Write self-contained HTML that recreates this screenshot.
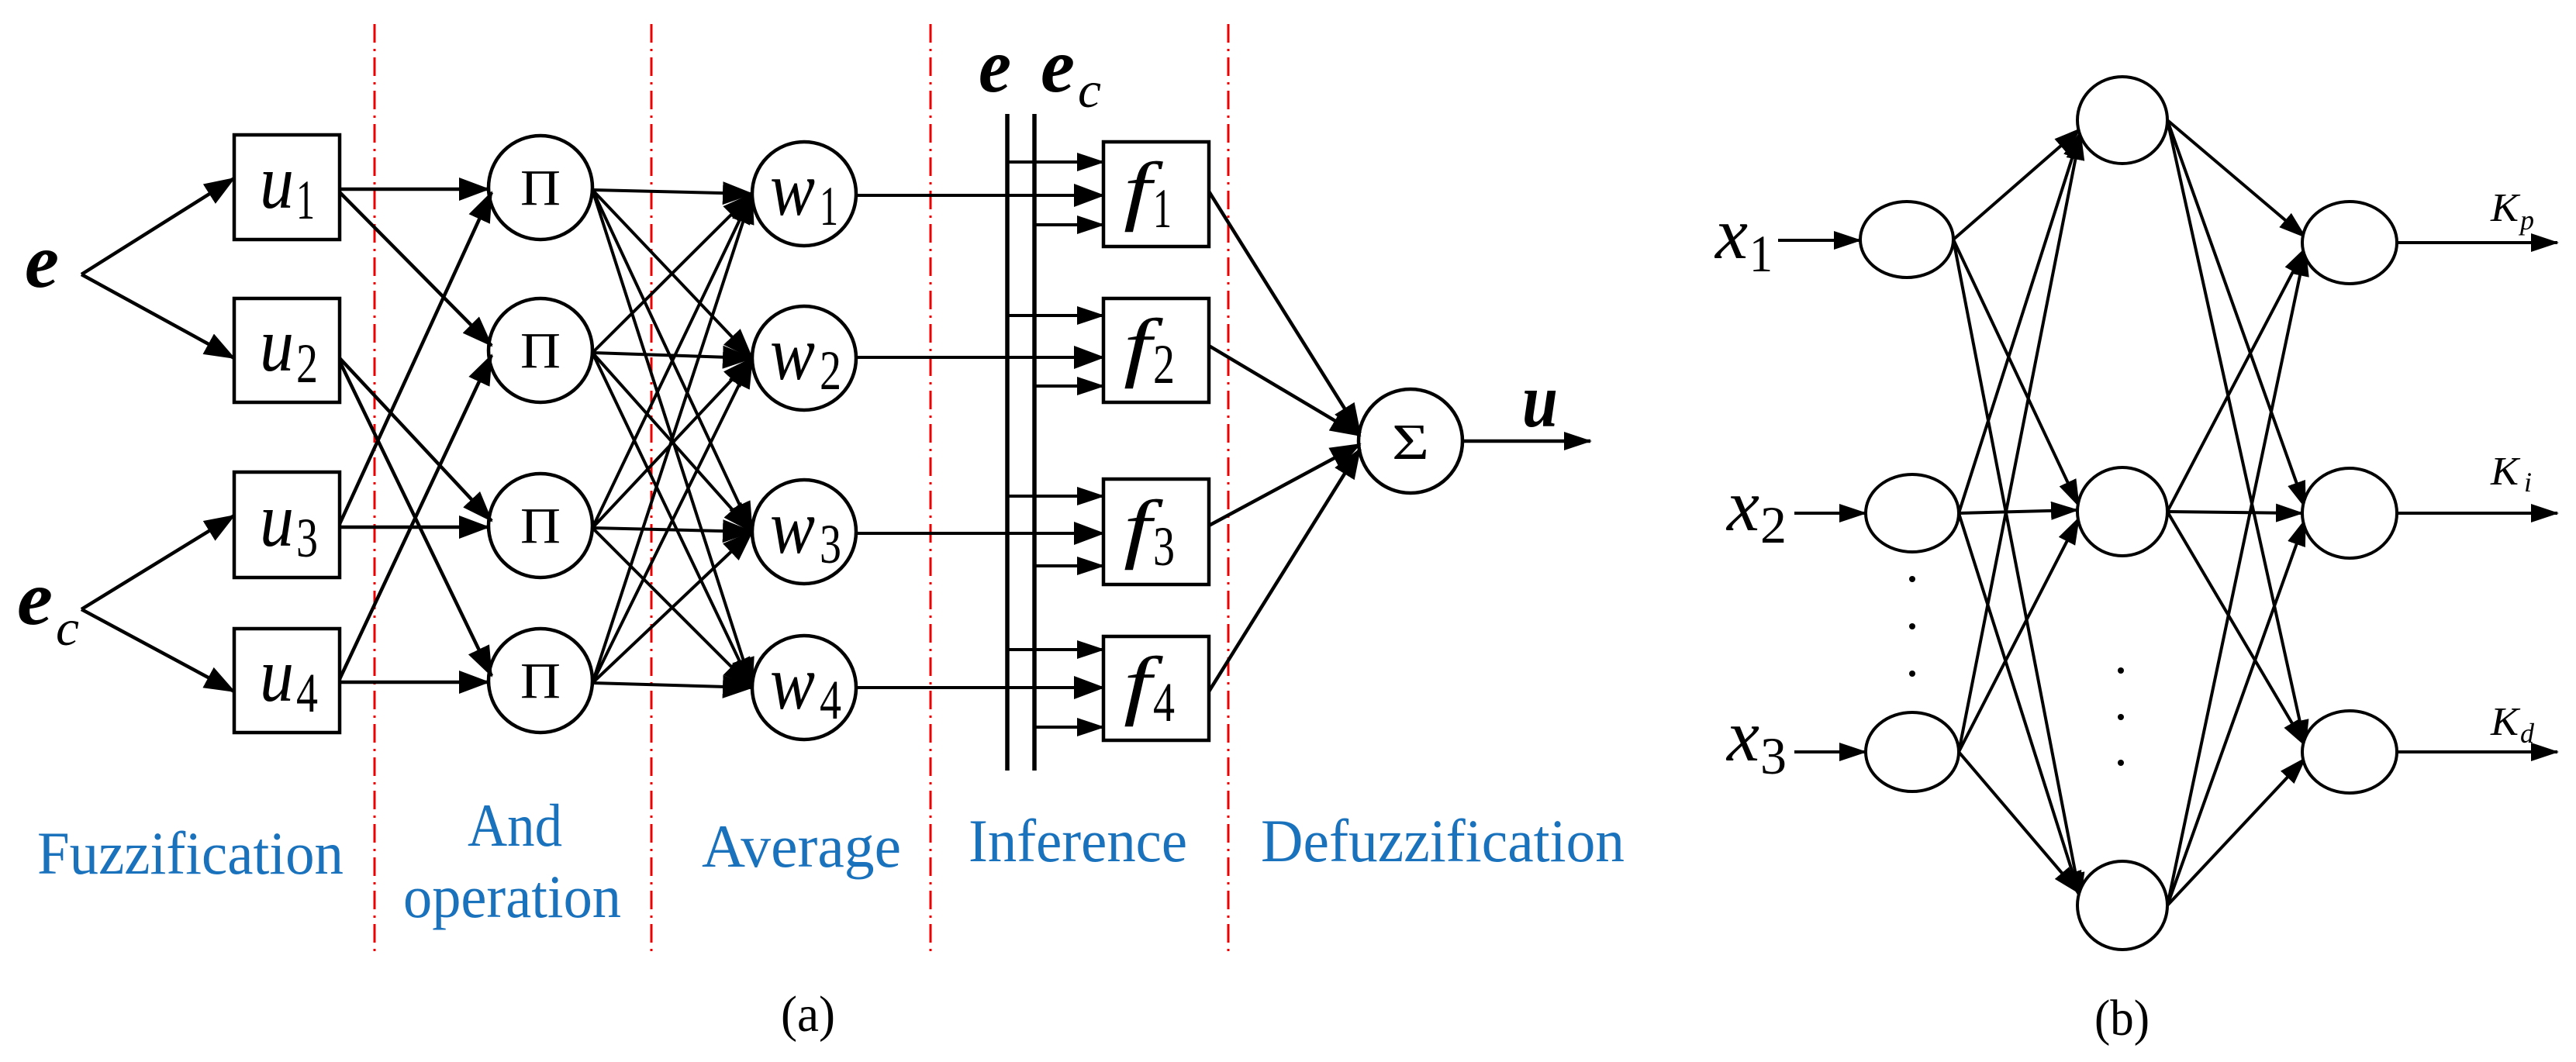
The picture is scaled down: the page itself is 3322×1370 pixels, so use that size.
<!DOCTYPE html>
<html><head><meta charset="utf-8"><style>html,body{margin:0;padding:0;background:#fff}svg{display:block}svg text{font-family:"Liberation Serif","DejaVu Serif",serif}</style></head>
<body>
<svg width="3322" height="1370" viewBox="0 0 3322 1370" xmlns="http://www.w3.org/2000/svg">
<defs>
<marker id="a" markerUnits="userSpaceOnUse" markerWidth="40" markerHeight="30" refX="38" refY="15" orient="auto">
<path d="M0,0 L40,15 L0,30 Z" fill="#000"/></marker>
<marker id="s" markerUnits="userSpaceOnUse" markerWidth="36" markerHeight="24" refX="34" refY="12" orient="auto">
<path d="M0,0 L36,12 L0,24 Z" fill="#000"/></marker>
</defs>
<g stroke="#e00" stroke-width="3" stroke-dasharray="24,8,3,8">
<line x1="483" y1="31" x2="483" y2="1233"/><line x1="840" y1="31" x2="840" y2="1233"/>
<line x1="1200" y1="31" x2="1200" y2="1233"/><line x1="1584" y1="31" x2="1584" y2="1233"/>
</g>
<g stroke="#000" stroke-width="4.5" fill="none">
<g marker-end="url(#a)">
<line x1="105" y1="354" x2="302" y2="230"/><line x1="105" y1="354" x2="302" y2="462"/>
<line x1="105" y1="786" x2="302" y2="665"/><line x1="105" y1="786" x2="302" y2="892"/>
<line x1="438" y1="244" x2="630" y2="244"/><line x1="438" y1="248" x2="634" y2="446"/>
<line x1="438" y1="462" x2="634" y2="672"/><line x1="438" y1="466" x2="634" y2="872"/>
<line x1="438" y1="680" x2="630" y2="680"/><line x1="438" y1="676" x2="634" y2="248"/>
<line x1="438" y1="880" x2="630" y2="880"/><line x1="438" y1="876" x2="634" y2="458"/>
</g>
<g marker-end="url(#a)" stroke-width="4">
<line x1="764" y1="245" x2="970" y2="250"/><line x1="764" y1="245" x2="970" y2="462"/><line x1="764" y1="245" x2="970" y2="686"/><line x1="764" y1="245" x2="970" y2="887"/>
<line x1="764" y1="455" x2="970" y2="250"/><line x1="764" y1="455" x2="970" y2="462"/><line x1="764" y1="455" x2="970" y2="686"/><line x1="764" y1="455" x2="970" y2="887"/>
<line x1="764" y1="681" x2="970" y2="250"/><line x1="764" y1="681" x2="970" y2="462"/><line x1="764" y1="681" x2="970" y2="686"/><line x1="764" y1="681" x2="970" y2="887"/>
<line x1="764" y1="881" x2="970" y2="250"/><line x1="764" y1="881" x2="970" y2="462"/><line x1="764" y1="881" x2="970" y2="686"/><line x1="764" y1="881" x2="970" y2="887"/>
<line x1="1104" y1="252" x2="1423" y2="252"/><line x1="1104" y1="461" x2="1423" y2="461"/>
<line x1="1104" y1="688" x2="1423" y2="688"/><line x1="1104" y1="887" x2="1423" y2="887"/>
</g>
<g marker-end="url(#s)" stroke-width="4">
<line x1="1299" y1="209" x2="1423" y2="209"/><line x1="1334" y1="290" x2="1423" y2="290"/>
<line x1="1299" y1="407" x2="1423" y2="407"/><line x1="1334" y1="498" x2="1423" y2="498"/>
<line x1="1299" y1="640" x2="1423" y2="640"/><line x1="1334" y1="730" x2="1423" y2="730"/>
<line x1="1299" y1="838" x2="1423" y2="838"/><line x1="1334" y1="938" x2="1423" y2="938"/>
</g>
<line x1="1299" y1="147" x2="1299" y2="994" stroke-width="5.5"/><line x1="1334" y1="147" x2="1334" y2="994" stroke-width="5.5"/>
<g marker-end="url(#a)">
<line x1="1559" y1="247" x2="1754" y2="559"/><line x1="1559" y1="446" x2="1754" y2="562"/>
<line x1="1559" y1="678" x2="1754" y2="573"/><line x1="1559" y1="892" x2="1754" y2="579"/>
</g>
<line x1="1886" y1="569" x2="2051" y2="569" marker-end="url(#s)"/>
<rect x="302" y="174" width="136" height="135"/><rect x="302" y="385" width="136" height="134"/>
<rect x="302" y="609" width="136" height="136"/><rect x="302" y="811" width="136" height="134"/>
<rect x="1423" y="183" width="136" height="135"/><rect x="1423" y="385" width="136" height="134"/>
<rect x="1423" y="618" width="136" height="136"/><rect x="1423" y="821" width="136" height="134"/>
<ellipse cx="697" cy="242" rx="67" ry="67"/><ellipse cx="697" cy="452" rx="67" ry="67"/>
<ellipse cx="697" cy="678" rx="67" ry="67"/><ellipse cx="697" cy="878" rx="67" ry="67"/>
<ellipse cx="1037" cy="250" rx="67" ry="67"/><ellipse cx="1037" cy="462" rx="67" ry="67"/>
<ellipse cx="1037" cy="686" rx="67" ry="67"/><ellipse cx="1037" cy="887" rx="67" ry="67"/>
<ellipse cx="1819" cy="569" rx="67" ry="67"/>
</g>
<g fill="#000">
<text x="32" y="370" font-size="100" font-style="italic" font-weight="bold" textLength="44" lengthAdjust="spacingAndGlyphs">e</text>
<text x="22" y="805" font-size="100" font-style="italic" font-weight="bold" textLength="46" lengthAdjust="spacingAndGlyphs">e</text><text x="72" y="832" font-size="66" font-style="italic" textLength="30" lengthAdjust="spacingAndGlyphs">c</text>
<text x="1262" y="118" font-size="100" font-style="italic" font-weight="bold" textLength="42" lengthAdjust="spacingAndGlyphs">e</text>
<text x="1342" y="118" font-size="100" font-style="italic" font-weight="bold" textLength="44" lengthAdjust="spacingAndGlyphs">e</text><text x="1390" y="138" font-size="66" font-style="italic" textLength="30" lengthAdjust="spacingAndGlyphs">c</text>
<text x="1963" y="550" font-size="100" font-style="italic" font-weight="bold" textLength="46" lengthAdjust="spacingAndGlyphs">u</text>
<g font-size="100" font-style="italic">
<text x="335" y="268" textLength="44" lengthAdjust="spacingAndGlyphs">u</text><text x="335" y="478" textLength="44" lengthAdjust="spacingAndGlyphs">u</text><text x="335" y="704" textLength="44" lengthAdjust="spacingAndGlyphs">u</text><text x="335" y="904" textLength="44" lengthAdjust="spacingAndGlyphs">u</text>
<text x="993" y="277" textLength="58" lengthAdjust="spacingAndGlyphs">w</text><text x="993" y="489" textLength="58" lengthAdjust="spacingAndGlyphs">w</text><text x="993" y="713" textLength="58" lengthAdjust="spacingAndGlyphs">w</text><text x="993" y="914" textLength="58" lengthAdjust="spacingAndGlyphs">w</text>
<text x="1449" y="278" textLength="36" lengthAdjust="spacingAndGlyphs">f</text><text x="1449" y="480" textLength="36" lengthAdjust="spacingAndGlyphs">f</text><text x="1449" y="714" textLength="36" lengthAdjust="spacingAndGlyphs">f</text><text x="1449" y="916" textLength="36" lengthAdjust="spacingAndGlyphs">f</text></g>
<g font-size="72">
<text x="382" y="282" textLength="24" lengthAdjust="spacingAndGlyphs">1</text><text x="382" y="493" textLength="28" lengthAdjust="spacingAndGlyphs">2</text><text x="382" y="718" textLength="28" lengthAdjust="spacingAndGlyphs">3</text><text x="382" y="918" textLength="28" lengthAdjust="spacingAndGlyphs">4</text>
<text x="1057" y="290" textLength="24" lengthAdjust="spacingAndGlyphs">1</text><text x="1057" y="502" textLength="28" lengthAdjust="spacingAndGlyphs">2</text><text x="1057" y="726" textLength="28" lengthAdjust="spacingAndGlyphs">3</text><text x="1057" y="927" textLength="28" lengthAdjust="spacingAndGlyphs">4</text>
<text x="1487" y="293" textLength="24" lengthAdjust="spacingAndGlyphs">1</text><text x="1487" y="494" textLength="28" lengthAdjust="spacingAndGlyphs">2</text><text x="1487" y="729" textLength="28" lengthAdjust="spacingAndGlyphs">3</text><text x="1487" y="930" textLength="28" lengthAdjust="spacingAndGlyphs">4</text></g>
<g font-size="66">
<text x="671" y="264" textLength="52" lengthAdjust="spacingAndGlyphs">Π</text><text x="671" y="474" textLength="52" lengthAdjust="spacingAndGlyphs">Π</text><text x="671" y="700" textLength="52" lengthAdjust="spacingAndGlyphs">Π</text><text x="671" y="900" textLength="52" lengthAdjust="spacingAndGlyphs">Π</text>
<text x="1795" y="592" textLength="48" lengthAdjust="spacingAndGlyphs">Σ</text></g>
<text x="1007" y="1330" font-size="66" textLength="70" lengthAdjust="spacingAndGlyphs">(a)</text>
<text x="2701" y="1335" font-size="66" textLength="71" lengthAdjust="spacingAndGlyphs">(b)</text>
</g>
<g fill="#1a72bd" font-size="78">
<text x="48" y="1127" textLength="395" lengthAdjust="spacingAndGlyphs">Fuzzification</text>
<text x="603" y="1091" textLength="122" lengthAdjust="spacingAndGlyphs">And</text>
<text x="520" y="1183" textLength="281" lengthAdjust="spacingAndGlyphs">operation</text>
<text x="905" y="1118" textLength="257" lengthAdjust="spacingAndGlyphs">Average</text>
<text x="1249" y="1111" textLength="282" lengthAdjust="spacingAndGlyphs">Inference</text>
<text x="1626" y="1111" textLength="469" lengthAdjust="spacingAndGlyphs">Defuzzification</text>
</g>
<g stroke="#000" stroke-width="4" fill="none">
<g marker-end="url(#s)">
<line x1="2293" y1="310" x2="2399" y2="310"/><line x1="2314" y1="662" x2="2406" y2="662"/><line x1="2314" y1="970" x2="2406" y2="970"/>
<line x1="2519" y1="309" x2="2683" y2="166"/><line x1="2519" y1="309" x2="2681" y2="653"/><line x1="2519" y1="309" x2="2683" y2="1160"/>
<line x1="2526" y1="662" x2="2683" y2="170"/><line x1="2526" y1="662" x2="2679" y2="658"/><line x1="2526" y1="662" x2="2683" y2="1158"/>
<line x1="2526" y1="970" x2="2683" y2="172"/><line x1="2526" y1="970" x2="2681" y2="668"/><line x1="2526" y1="970" x2="2681" y2="1152"/>
<line x1="2795" y1="155" x2="2973" y2="306"/><line x1="2795" y1="155" x2="2973" y2="655"/><line x1="2795" y1="155" x2="2973" y2="963"/>
<line x1="2795" y1="660" x2="2973" y2="320"/><line x1="2795" y1="660" x2="2969" y2="662"/><line x1="2795" y1="660" x2="2973" y2="962"/>
<line x1="2795" y1="1168" x2="2973" y2="322"/><line x1="2795" y1="1168" x2="2973" y2="670"/><line x1="2795" y1="1168" x2="2973" y2="978"/>
<line x1="3091" y1="313" x2="3298" y2="313"/><line x1="3091" y1="662" x2="3298" y2="662"/><line x1="3091" y1="970" x2="3298" y2="970"/>
</g>
<ellipse cx="2459" cy="309" rx="60" ry="49" fill="#fff"/><ellipse cx="2466" cy="662" rx="60" ry="50" fill="#fff"/><ellipse cx="2466" cy="970" rx="60" ry="51" fill="#fff"/>
<ellipse cx="2737" cy="155" rx="58" ry="56" fill="#fff"/><ellipse cx="2737" cy="660" rx="58" ry="57" fill="#fff"/><ellipse cx="2737" cy="1168" rx="58" ry="57" fill="#fff"/>
<ellipse cx="3030" cy="313" rx="61" ry="53" fill="#fff"/><ellipse cx="3030" cy="662" rx="61" ry="58" fill="#fff"/><ellipse cx="3030" cy="970" rx="61" ry="53" fill="#fff"/>
</g>
<g fill="#000">
<circle cx="2466" cy="747" r="4"/><circle cx="2466" cy="808" r="4"/><circle cx="2466" cy="869" r="4"/>
<circle cx="2735" cy="865" r="4"/><circle cx="2735" cy="925" r="4"/><circle cx="2735" cy="984" r="4"/>
<g font-size="95" font-style="italic"><text x="2212" y="333" textLength="42" lengthAdjust="spacingAndGlyphs">x</text><text x="2227" y="684" textLength="42" lengthAdjust="spacingAndGlyphs">x</text><text x="2227" y="981" textLength="42" lengthAdjust="spacingAndGlyphs">x</text></g>
<g font-size="68"><text x="2256" y="350" textLength="30" lengthAdjust="spacingAndGlyphs">1</text><text x="2270" y="700" textLength="34" lengthAdjust="spacingAndGlyphs">2</text><text x="2270" y="998" textLength="34" lengthAdjust="spacingAndGlyphs">3</text></g>
<g font-size="52" font-style="italic"><text x="3212" y="285" textLength="36" lengthAdjust="spacingAndGlyphs">K</text><text x="3212" y="625" textLength="36" lengthAdjust="spacingAndGlyphs">K</text><text x="3212" y="948" textLength="36" lengthAdjust="spacingAndGlyphs">K</text></g>
<g font-size="36" font-style="italic"><text x="3250" y="296">p</text><text x="3255" y="634">i</text><text x="3250" y="958">d</text></g>
</g>
</svg>
</body></html>
